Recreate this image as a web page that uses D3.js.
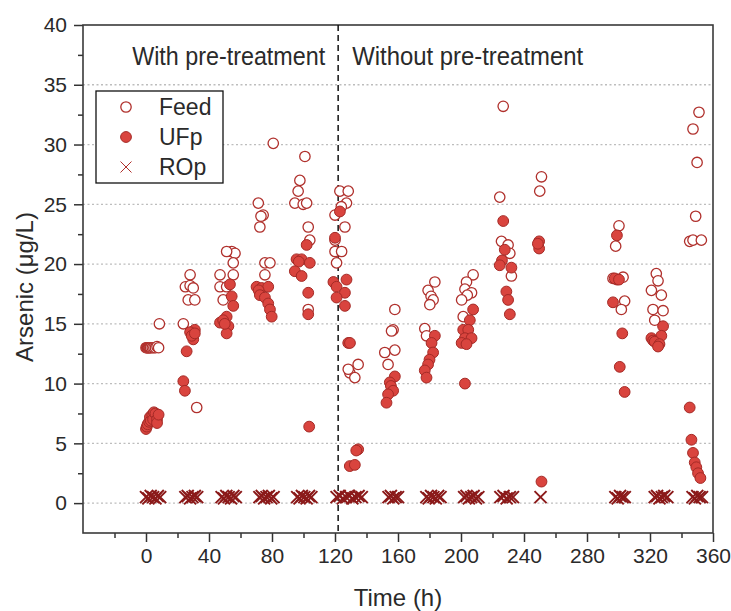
<!DOCTYPE html>
<html>
<head>
<meta charset="utf-8">
<script src="https://cdn.jsdelivr.net/npm/d3@7"></script>
<style>
  body { margin: 0; background: #fff; }
  svg { display: block; font-family: "Liberation Sans", Arial, sans-serif; }
</style>
</head>
<body>
<div id="chart"></div>
<script>
// Arsenic concentration over time: feed, UF permeate, RO permeate
const feed = [
  [0, 13], [0.5, 13], [1, 13], [1.5, 13], [2, 13], [2.5, 13], [3, 13], [4, 13], [5, 13], [6, 13], [7, 13.1], [8, 13], [8.5, 15],
  [28, 19.1], [25, 18.1], [28, 18.2], [30, 18.0], [26.8, 17.0], [31, 17.0], [23.7, 15.0], [32.2, 8.0],
  [54.4, 21.05], [56.5, 20.9], [51.2, 21.05], [55.4, 20.1], [47, 19.1], [55.4, 19.1], [47, 18.1], [51.2, 18.1], [49, 17.0],
  [71.3, 25.1], [74.4, 24.1], [72.3, 23.1], [73, 24.0], [80.8, 30.1], [75.5, 20.1], [78.7, 20.1], [75.5, 19.1],
  [100.9, 29.0], [97.7, 27.0], [96.6, 26.1], [94.5, 25.1], [99.8, 25.0], [102, 25.1], [103, 23.1], [104, 22.0], [103, 16.2],
  [123.1, 26.1], [128.4, 26.1], [127.3, 25.1], [124, 24.8], [120, 24.1], [126.3, 23.1], [120, 22.0], [120, 21.05], [124.2, 21.05], [121, 20.1],
  [134.7, 11.6], [129.4, 10.9], [132.6, 10.5], [128.4, 11.2],
  [158, 16.2], [156.9, 14.5], [155.9, 14.4], [151.6, 12.6], [158, 12.8], [153.7, 11.6],
  [183.4, 18.5], [179.1, 17.8], [181, 17.3], [182.3, 17.0], [180.2, 16.6], [177, 14.6], [178.1, 14.0],
  [207.7, 19.1], [203.5, 18.5], [202.5, 17.9], [206.7, 17.6], [204, 17.4], [200.4, 17.0], [201.4, 15.6],
  [226.8, 33.2], [224.6, 25.6], [225.7, 21.9], [229.9, 21.6], [231, 20.9], [232, 19.0],
  [251.1, 27.3], [250, 26.1],
  [300.3, 23.2], [298.2, 21.5], [296.5, 18.8], [302.9, 18.9], [299, 18.7], [303.9, 16.9], [301.8, 16.2],
  [324, 19.2], [325.1, 18.6], [320.9, 17.8], [327.2, 17.4], [321.9, 16.2], [328.3, 16.1], [323, 15.3],
  [351.1, 32.7], [347.3, 31.3], [349.9, 28.5], [349, 24.0], [345.2, 21.9], [347.3, 22.0], [352.6, 22.0]
];

const ufp = [
  [0, 6.2], [0.5, 6.4], [1, 6.6], [2, 6.8], [2.5, 7.2], [3, 6.9], [4, 7.4], [4.5, 7.0], [5, 7.6], [6, 7.5], [7, 7.0], [7, 6.7], [8, 7.4],
  [31, 14.5], [30, 13.7], [28, 14.3], [29, 14.0], [31, 14.2], [25.8, 12.7], [23.7, 10.2], [24.7, 9.4],
  [53.3, 18.3], [54.4, 17.3], [55.4, 16.5], [47, 15.1], [51.2, 15.6], [52.3, 14.8], [51.2, 14.2], [49, 15.3], [50, 15.0],
  [70.2, 18.1], [73.4, 18.0], [77.6, 18.1], [71.5, 17.8], [72.3, 17.4], [75.5, 17.2], [77.6, 16.7], [78.7, 16.2], [79.8, 15.6],
  [102, 21.6], [95.6, 20.4], [98.8, 20.4], [97, 20.2], [104, 20.1], [94.5, 19.4], [98.8, 19.0], [103, 17.6], [103, 15.8], [103.6, 6.4],
  [123.1, 24.4], [120, 22.2], [119, 18.5], [127.3, 18.7], [121, 18.1], [126.3, 17.6], [121, 17.2], [126.3, 16.5],
  [128.4, 13.4], [129.5, 13.4], [134.7, 4.5], [133.5, 4.4], [129.4, 3.1], [132.6, 3.2],
  [158, 10.6], [154.8, 10.1], [155.5, 9.8], [156.9, 9.4], [153.7, 9.1], [152.7, 8.4],
  [183.4, 14.0], [181.3, 13.4], [182.3, 12.6], [180, 12.0], [179.1, 11.6], [177, 11.1], [178.1, 10.5],
  [207.7, 16.2], [205.6, 15.3], [201.4, 14.5], [204.6, 14.5], [202.5, 13.8], [206.7, 13.8], [200.4, 13.4], [203.5, 13.3], [202.5, 10.0],
  [226.8, 23.6], [227.8, 21.2], [226, 20.3], [224.6, 19.9], [232, 19.7], [228.8, 17.7], [229.9, 17.0], [231, 15.8],
  [249.6, 21.9], [249.6, 21.3], [248.8, 21.7], [251.1, 1.8],
  [299, 22.4], [297.6, 18.8], [300.3, 18.7], [296.5, 16.8], [302.4, 14.2], [300.8, 11.4], [303.9, 9.3],
  [328.3, 14.8], [327.2, 14.0], [320.9, 13.8], [322, 13.6], [323, 13.5], [326, 13.3], [325.1, 13.1],
  [345.2, 8.0], [346.3, 5.3], [347.3, 4.2], [348.4, 3.4], [349.4, 3.0], [350.5, 2.5], [352, 2.1]
];

const rop = [
  [0, 0.5], [1.5, 0.4], [3, 0.6], [4.5, 0.5], [6, 0.4], [7.5, 0.6], [9, 0.5],
  [25, 0.5], [26.5, 0.6], [28, 0.4], [29.5, 0.5], [31, 0.6], [32.5, 0.5],
  [48, 0.5], [49.5, 0.4], [51, 0.6], [52.5, 0.5], [54, 0.4], [55.5, 0.6], [57, 0.5],
  [72, 0.5], [73.5, 0.6], [75, 0.4], [76.5, 0.5], [78, 0.6], [79.5, 0.4], [81, 0.5],
  [96, 0.5], [97.5, 0.4], [99, 0.6], [100.5, 0.5], [102, 0.4], [103.5, 0.6], [105, 0.5],
  [121, 0.5], [123, 0.6], [125, 0.4], [127, 0.5], [129, 0.6], [131, 0.4], [133, 0.5], [135, 0.6], [137, 0.5],
  [154, 0.5], [155.5, 0.6], [157, 0.4], [158.5, 0.5], [160, 0.5],
  [178, 0.5], [179.5, 0.4], [181, 0.6], [182.5, 0.5], [184, 0.4], [185.5, 0.6], [187, 0.5],
  [202, 0.5], [203.5, 0.6], [205, 0.4], [206.5, 0.5], [208, 0.6], [209.5, 0.4], [211, 0.5],
  [225, 0.5], [227, 0.6], [229, 0.4], [231, 0.5], [233, 0.5],
  [250.5, 0.5],
  [298, 0.5], [299.5, 0.4], [301, 0.6], [302.5, 0.5], [304, 0.5],
  [323, 0.5], [324.5, 0.6], [326, 0.4], [327.5, 0.5], [329, 0.6], [331, 0.5],
  [347, 0.5], [348.5, 0.4], [350, 0.6], [351.5, 0.5], [353, 0.5]
];

const xTicks = [0, 40, 80, 120, 160, 200, 240, 280, 320, 360];
const xMinorTicks = [-20, 20, 60, 100, 140, 180, 220, 260, 300, 340];
const yTicks = [0, 5, 10, 15, 20, 25, 30, 35, 40];
const yMinorTicks = [2.5, 7.5, 12.5, 17.5, 22.5, 27.5, 32.5, 37.5];
const dividerTime = 122;
const legendItems = ["Feed", "UFp", "ROp"];

// Dimensions
const W = 731, H = 611;
const margin = { top: 25, right: 18, bottom: 78, left: 83 };
const width = W - margin.left - margin.right;
const height = H - margin.top - margin.bottom;

const svg = d3.select("#chart").append("svg")
  .attr("width", W)
  .attr("height", H);

const g = svg.append("g")
  .attr("transform", `translate(${margin.left},${margin.top})`);

// Scales
const x = d3.scaleLinear().domain([-40, 360]).range([0, width]);
const y = d3.scaleLinear().domain([-2.5, 40]).range([height, 0]);

const darkRed = "#8b1a1a";
const feedStroke = "#b0302c";
const ufpFill = "#d9443e";
const ufpStroke = "#a52a26";

// Horizontal dotted grid
g.append("g")
  .selectAll("line")
  .data(yTicks.filter(d => d < 40))
  .enter().append("line")
  .attr("x1", 0)
  .attr("x2", width)
  .attr("y1", d => y(d))
  .attr("y2", d => y(d))
  .style("stroke", "#bdbdbd")
  .style("stroke-width", 1.3)
  .style("stroke-dasharray", "2,2.5");

// Axes (outward ticks, major + minor)
g.append("g")
  .attr("class", "x-axis")
  .attr("transform", `translate(0,${height})`)
  .call(d3.axisBottom(x).tickValues(xTicks).tickSize(9).tickPadding(6).tickFormat(d3.format("d")));

g.append("g")
  .attr("transform", `translate(0,${height})`)
  .call(d3.axisBottom(x).tickValues(xMinorTicks).tickSize(5).tickFormat(""));

g.append("g")
  .attr("class", "y-axis")
  .call(d3.axisLeft(y).tickValues(yTicks).tickSize(9).tickPadding(7).tickFormat(d3.format("d")));

g.append("g")
  .call(d3.axisLeft(y).tickValues(yMinorTicks).tickSize(5).tickFormat(""));

g.selectAll(".tick line").style("stroke", "#333").style("stroke-width", 1.5);
g.selectAll(".domain").remove();
g.selectAll(".x-axis text, .y-axis text")
  .style("font-size", "21px")
  .style("fill", "#2a2a2a");

// Frame
g.append("rect")
  .attr("x", 0).attr("y", 0)
  .attr("width", width).attr("height", height)
  .style("fill", "none")
  .style("stroke", "#3a3a3a")
  .style("stroke-width", 1.6);

// Divider between treatment phases
g.append("line")
  .attr("x1", x(dividerTime)).attr("x2", x(dividerTime))
  .attr("y1", 0).attr("y2", height)
  .style("stroke", "#111")
  .style("stroke-width", 1.5)
  .style("stroke-dasharray", "6,4");

g.append("text")
  .attr("x", x(dividerTime) - 13)
  .attr("y", 40)
  .attr("text-anchor", "end")
  .attr("textLength", 193)
  .attr("lengthAdjust", "spacingAndGlyphs")
  .style("font-size", "26px")
  .style("fill", "#2a2a2a")
  .text("With pre-treatment");

g.append("text")
  .attr("x", x(dividerTime) + 14)
  .attr("y", 40)
  .attr("textLength", 231)
  .attr("lengthAdjust", "spacingAndGlyphs")
  .style("font-size", "26px")
  .style("fill", "#2a2a2a")
  .text("Without pre-treatment");

// Data markers
const plot = g.append("g");

plot.selectAll(".feed")
  .data(feed)
  .enter().append("circle")
  .attr("class", "feed")
  .attr("cx", d => x(d[0]))
  .attr("cy", d => y(d[1]))
  .attr("r", 5.2)
  .style("fill", "#fff")
  .style("stroke", feedStroke)
  .style("stroke-width", 1.3);

plot.selectAll(".ufp")
  .data(ufp)
  .enter().append("circle")
  .attr("class", "ufp")
  .attr("cx", d => x(d[0]))
  .attr("cy", d => y(d[1]))
  .attr("r", 5.4)
  .style("fill", ufpFill)
  .style("stroke", ufpStroke)
  .style("stroke-width", 1);

const cross = s => `M${-s},${-s}L${s},${s}M${-s},${s}L${s},${-s}`;

plot.selectAll(".rop")
  .data(rop)
  .enter().append("path")
  .attr("class", "rop")
  .attr("transform", d => `translate(${x(d[0])},${y(d[1])})`)
  .attr("d", cross(6))
  .style("fill", "none")
  .style("stroke", darkRed)
  .style("stroke-width", 2);

// Legend
const legend = g.append("g").attr("transform", "translate(13,66)");

legend.append("rect")
  .attr("width", 127)
  .attr("height", 92)
  .style("fill", "#fff")
  .style("stroke", "#111")
  .style("stroke-width", 1.3);

legendItems.forEach((name, i) => {
  const row = legend.append("g").attr("transform", `translate(30,${16 + i * 30})`);
  if (name === "Feed") {
    row.append("circle").attr("r", 5.2)
      .style("fill", "#fff").style("stroke", feedStroke).style("stroke-width", 1.3);
  } else if (name === "UFp") {
    row.append("circle").attr("r", 5.4)
      .style("fill", ufpFill).style("stroke", ufpStroke);
  } else {
    row.append("path").attr("d", cross(5.5))
      .style("stroke", feedStroke).style("stroke-width", 1);
  }
  row.append("text")
    .attr("x", 33)
    .attr("dy", "0.36em")
    .style("font-size", "23px")
    .style("fill", "#2a2a2a")
    .text(name);
});

// Axis titles
svg.append("text")
  .attr("x", margin.left + width / 2)
  .attr("y", 606)
  .attr("text-anchor", "middle")
  .style("font-size", "24px")
  .style("fill", "#2a2a2a")
  .text("Time (h)");

svg.append("text")
  .attr("transform", `translate(33,${margin.top + height / 2 + 8}) rotate(-90)`)
  .attr("text-anchor", "middle")
  .style("font-size", "24px")
  .style("fill", "#2a2a2a")
  .text("Arsenic (\u03bcg/L)");
</script>
</body>
</html>
